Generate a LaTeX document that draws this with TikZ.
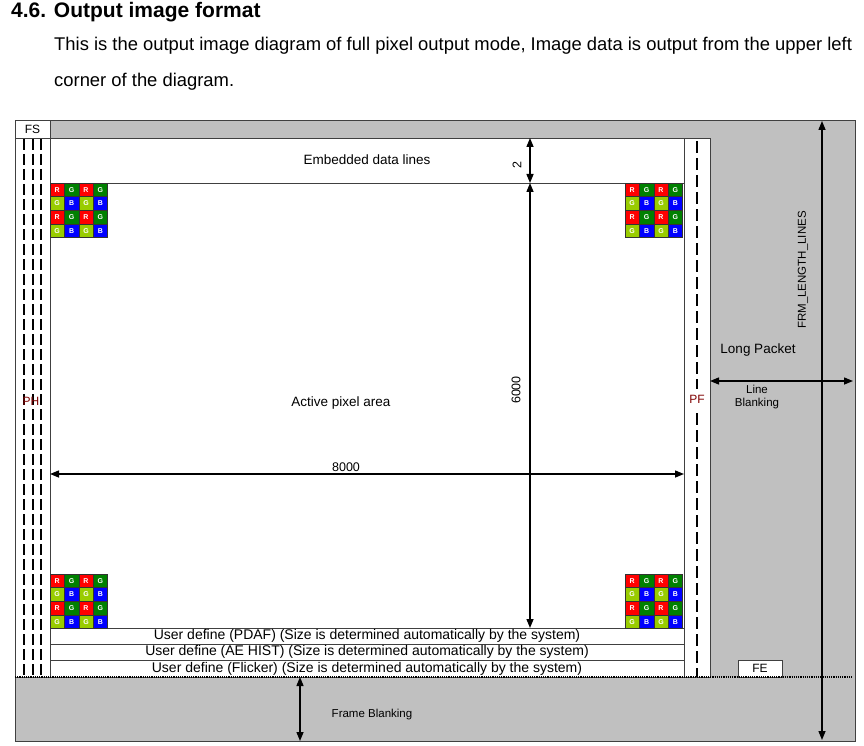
\documentclass[tikz,border=0pt]{standalone}
\usepackage{fontspec}
\setmainfont{Liberation Sans}
\usetikzlibrary{arrows.meta, positioning}
\definecolor{frmgray}{RGB}{192,192,192}
\definecolor{edgegray}{RGB}{64,64,64}
\definecolor{pxred}{RGB}{255,0,0}
\definecolor{pxdkgreen}{RGB}{0,128,0}
\definecolor{pxltgreen}{RGB}{153,204,0}
\definecolor{pxblue}{RGB}{0,0,255}
\definecolor{porchred}{RGB}{128,0,0}
% 4x4 bayer tile, #1,#2 = top left corner (y measured downwards)
\newcommand{\xbayer}[2]{%
    \foreach \r in {0,1,2,3}{%
        \foreach \c in {0,1,2,3}{%
            \pgfmathtruncatemacro{\pxk}{2*mod(\r,2)+mod(\c,2)}%
            \ifcase\pxk \def\pxcol{pxred}\def\pxchr{R}%
            \or \def\pxcol{pxdkgreen}\def\pxchr{G}%
            \or \def\pxcol{pxltgreen}\def\pxchr{G}%
            \or \def\pxcol{pxblue}\def\pxchr{B}\fi
            \node[pixcell, fill=\pxcol] at (#1+\c*14.4+7.2, -#2-\r*13.65-6.83) {\pxchr};
        }%
    }%
}

\begin{document}
\begin{tikzpicture}[x=1pt, y=1pt,
    lbl/.style={font=\fontsize{13.5}{16}\selectfont, inner sep=0pt},
    udlbl/.style={font=\fontsize{14}{16}\selectfont, inner sep=0pt},
    smalllbl/.style={font=\fontsize{11.5}{13.5}\selectfont, inner sep=0pt, align=center},
    porch/.style={font=\fontsize{12}{14}\selectfont, inner sep=0pt, text=porchred},
    pixcell/.style={draw=black!80, line width=0.6pt, minimum width=14.4pt, minimum height=13.65pt,
        inner sep=0pt, text=white, font=\fontsize{7}{7}\selectfont\bfseries},
    frame/.style={draw=edgegray, line width=0.8pt},
    porchdash/.style={line width=2.6pt, dash pattern=on 11pt off 4pt},
    dimarrow/.style={{Triangle[length=9pt,width=7pt]}-{Triangle[length=9pt,width=7pt]}, line width=1.4pt},
]
    \useasboundingbox (0,0) rectangle (864,-746);

    % ---------------- heading ----------------
    \node[anchor=west, inner sep=0pt, font=\fontsize{21}{25}\selectfont\bfseries] (title) at (11,-12) {4.6. Output image format};
    \node[anchor=west, inner sep=0pt, font=\fontsize{18.4}{21}\selectfont] (para1) at (54,-46)
        {This is the output image diagram of full pixel output mode, Image data is output from the upper left};
    \node[anchor=west, inner sep=0pt, font=\fontsize{18.4}{21}\selectfont] (para2) at (54,-82)
        {corner of the diagram.};

    % ---------------- frame ----------------
    \draw[frame, fill=frmgray] (15,-120) rectangle (855,-741);
    \draw[frame, fill=white] (15,-120) rectangle (50,-677);
    \draw[frame] (15,-138) -- (50,-138);
    \draw[frame, fill=white] (50,-138) rectangle (684,-677);
    \draw[frame, fill=white] (684,-138) rectangle (710,-677);
    \draw[frame] (50,-183) -- (684,-183);
    \draw[frame] (50,-628) -- (684,-628);
    \draw[frame] (50,-644) -- (684,-644);
    \draw[frame] (50,-660) -- (684,-660);

    % porch dashes
    \foreach \px in {24,33,41}{
        \draw[porchdash] (\px,-139) -- (\px,-677);
    }
    \draw[line width=2pt, dash pattern=on 12pt off 5pt] (697,-141) -- (697,-677);

    \node[font=\fontsize{12}{14}\selectfont, inner sep=0pt] (fs) at (32.5,-129) {FS};
    \node[porch] (ph) at (31,-401) {PH};
    \node[porch, fill=white, inner ysep=6pt, inner xsep=1pt] (pf) at (697,-399) {PF};

    \draw[frame, fill=white] (738,-660) rectangle (782,-677);
    \node[font=\fontsize{12}{14}\selectfont, inner sep=0pt] (fe) at (760,-668.5) {FE};

    \draw[line width=1.2pt, dash pattern=on 1.2pt off 1pt] (15,-677) -- (852,-677);

    % ---------------- bayer corners ----------------
    \xbayer{50}{183}
    \xbayer{625}{183}
    \xbayer{50}{574}
    \xbayer{625}{574}

    % ---------------- texts ----------------
    \node[lbl] (embedded) at (367,-160) {Embedded data lines};
    \node[lbl] (active) at (341,-403) {Active pixel area};
    \node[lbl] (longpkt) at (758,-350) {Long Packet};
    \node[smalllbl] (lineblank) at (757,-397) {Line\\Blanking};
    \node[smalllbl] (frameblank) at (372,-715) {Frame Blanking};
    \node[smalllbl, rotate=90] (frmlen) at (803,-270) {FRM\_LENGTH\_LINES};
    \node[udlbl] (ud1) at (367,-636) {User define (PDAF) (Size is determined automatically by the system)};
    \node[udlbl] (ud2) at (367,-652) {User define (AE HIST) (Size is determined automatically by the system)};
    \node[udlbl] (ud3) at (367,-668.5) {User define (Flicker) (Size is determined automatically by the system)};

    % ---------------- dimensions ----------------
    \coordinate (embtop) at (530,-138);
    \coordinate (embbot) at (530,-183);
    \coordinate (actbot) at (530,-628);
    \draw[dimarrow] (embtop) -- (embbot);
    \draw[dimarrow] (embbot) -- (actbot);
    \node[lbl, font=\fontsize{12.5}{14}\selectfont, rotate=90] (dimtwo) at (517,-165) {2};
    \node[lbl, font=\fontsize{12.5}{14}\selectfont, rotate=90] (dimsix) at (516,-390) {6000};

    \coordinate (actleft) at (50,-474);
    \coordinate (actright) at (684,-474);
    \draw[dimarrow] (actleft) -- (actright);
    \node[lbl, font=\fontsize{12.5}{14}\selectfont] (dimeight) at (346,-467) {8000};

    \coordinate (lbleft) at (710,-381);
    \coordinate (lbright) at (853,-381);
    \draw[dimarrow] (lbleft) -- (lbright);

    \coordinate (frmtop) at (822,-121);
    \coordinate (frmbot) at (822,-740);
    \draw[dimarrow] (frmtop) -- (frmbot);

    \coordinate (fbtop) at (300,-677);
    \coordinate (fbbot) at (300,-741);
    \draw[dimarrow] (fbtop) -- (fbbot);

\end{tikzpicture}
\end{document}
